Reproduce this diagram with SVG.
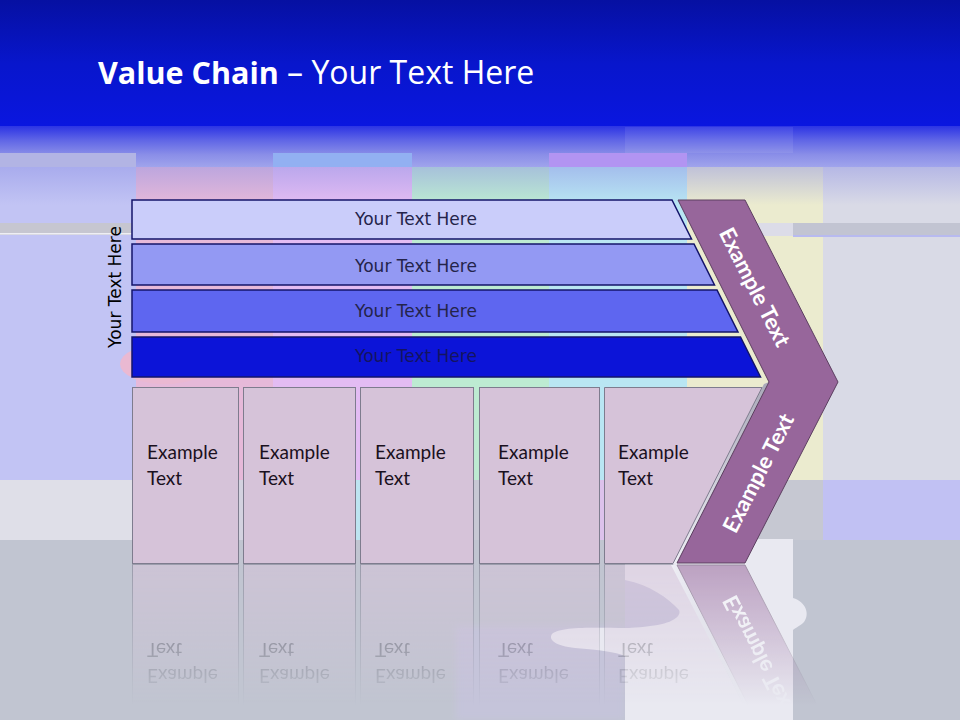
<svg xmlns="http://www.w3.org/2000/svg" xmlns:xlink="http://www.w3.org/1999/xlink" width="960" height="720" viewBox="0 0 960 720">
<defs>
<style>
.bar{stroke:#14146a;stroke-width:1.5}
.bartext{font-family:"DejaVu Sans",Verdana,sans-serif;font-size:17px;fill:#24244a;text-anchor:middle}
.box{fill:#d6c3d9;stroke:#7e7c8e;stroke-width:1}
.boxtext{font-family:Lato,"Liberation Sans",Arial,sans-serif;font-size:19px;fill:#1a1020}
.chev{fill:#97669b;stroke:#5c3f60;stroke-width:1}
.chevtext{font-family:Lato,"Liberation Sans",Arial,sans-serif;font-size:22px;font-weight:bold;fill:#ffffff;text-anchor:middle}
</style>
<linearGradient id="topBlue" x1="0" y1="0" x2="0" y2="1">
<stop offset="0" stop-color="#0610a2"/>
<stop offset="0.5" stop-color="#0816cc"/>
<stop offset="1" stop-color="#0a16e0"/>
</linearGradient>
<linearGradient id="band" gradientUnits="userSpaceOnUse" x1="0" y1="126" x2="0" y2="167">
<stop offset="0" stop-color="#2c34e4"/>
<stop offset="0.35" stop-color="#6066e6"/>
<stop offset="0.7" stop-color="#8a8ee8"/>
<stop offset="1" stop-color="#a0a4ec"/>
</linearGradient>
<linearGradient id="colTop" gradientUnits="userSpaceOnUse" x1="0" y1="167" x2="0" y2="205">
<stop offset="0" stop-color="#8a8ee4" stop-opacity="0.45"/>
<stop offset="1" stop-color="#8a8ee4" stop-opacity="0"/>
</linearGradient>
<linearGradient id="reflFade" gradientUnits="userSpaceOnUse" x1="0" y1="565" x2="0" y2="705">
<stop offset="0" stop-color="#fff" stop-opacity="0.55"/>
<stop offset="1" stop-color="#fff" stop-opacity="0"/>
</linearGradient>
<mask id="reflMask" maskUnits="userSpaceOnUse" x="0" y="560" width="960" height="160">
<rect x="0" y="560" width="960" height="160" fill="url(#reflFade)"/>
</mask>
<linearGradient id="bevel" x1="0" y1="0" x2="1" y2="0">
<stop offset="0" stop-color="#f2f2f8"/>
<stop offset="1" stop-color="#a8a8b8"/>
</linearGradient>
<filter id="soft" x="-10%" y="-10%" width="120%" height="120%"><feGaussianBlur stdDeviation="3"/></filter>
</defs>

<g id="background">
<rect x="0" y="0" width="960" height="720" fill="#c1c5d1"/>
<rect x="0" y="0" width="960" height="127" fill="url(#topBlue)"/>
<rect x="0" y="126" width="960" height="41" fill="url(#band)"/>
<rect x="0" y="167" width="136" height="313" fill="#c2c4f4"/>
<rect x="136" y="167" width="137" height="313" fill="#e6b9d9"/>
<rect x="273" y="167" width="139" height="313" fill="#e3bcf3"/>
<rect x="412" y="167" width="137" height="313" fill="#bdebd2"/>
<rect x="549" y="167" width="138" height="313" fill="#b9e6f3"/>
<rect x="687" y="167" width="136" height="313" fill="#ebebcf"/>
<rect x="823" y="167" width="137" height="313" fill="#d9dae6"/>
<rect x="0" y="167" width="960" height="38" fill="url(#colTop)"/>
<rect x="0" y="153" width="136" height="14" fill="#b2b4e4"/>
<rect x="273" y="153" width="139" height="14" fill="#92b0f2"/>
<rect x="549" y="153" width="138" height="14" fill="#b294f2"/>
<rect x="625" y="127" width="168" height="26" fill="#ffffff" opacity="0.08"/>
<ellipse cx="165" cy="364" rx="45" ry="20" fill="#eab9d2"/>
<rect x="0" y="480" width="136" height="60" fill="#dfdfe8"/>
<rect x="136" y="480" width="137" height="60" fill="#d4d2e0"/>
<rect x="273" y="480" width="139" height="60" fill="#bde4f1"/>
<rect x="412" y="480" width="137" height="60" fill="#c8c8d4"/>
<rect x="549" y="480" width="138" height="60" fill="#dcc2ec"/>
<rect x="687" y="480" width="136" height="60" fill="#c6c8d2"/>
<rect x="823" y="480" width="137" height="60" fill="#c1c1f3"/>
<rect x="0" y="223" width="132" height="12" fill="#c6c6d0"/>
<rect x="0" y="233" width="132" height="1.5" fill="#eeeef4"/>
<rect x="757" y="223" width="203" height="13" fill="#c2c4d2"/>
<rect x="757" y="223" width="36" height="13" fill="#dcdce8"/>
<rect x="793" y="235" width="167" height="2" fill="#b8baf0"/>
<rect x="456" y="626" width="169" height="94" fill="#c5c4da" filter="url(#soft)"/>
<rect x="625" y="539" width="168" height="181" fill="#e9e9f1"/>
<path d="M625,628 C600,628 560,626 552,634 C548,640 556,646 575,648 C600,650 615,652 625,656 Z" fill="#e9e9f1"/>
<path d="M625,580 C650,585 668,598 679,610 C682,616 672,624 650,626 C635,628 625,628 625,628 Z" fill="#c7c5dc"/>
<path d="M793,598 C806,602 810,614 804,622 C800,626 795,628 793,630 Z" fill="#e9e9f1"/>
</g>

<g id="title">
<text x="98" y="84" font-family="'Open Sans',Lato,'Liberation Sans',Arial,sans-serif" font-size="32" fill="#ffffff"><tspan font-weight="bold" font-size="30.5">Value Chain</tspan> – Your Text Here</text>
</g>

<g id="reflection" mask="url(#reflMask)">
<g transform="matrix(1,0,0,-1,0,1128)">
<use xlink:href="#boxes"/>
<use xlink:href="#chevron"/>
</g>
</g>

<g id="bars">
<g id="bar-1">
<polygon class="bar" points="132,200 672,200 691.5,239 132,239" fill="#cacdfa"/>
<text class="bartext" x="416" y="225">Your Text Here</text>
</g>
<g id="bar-2">
<polygon class="bar" points="132,244 694,244 714.5,285 132,285" fill="#9399f3"/>
<text class="bartext" x="416" y="272">Your Text Here</text>
</g>
<g id="bar-3">
<polygon class="bar" points="132,290 717,290 738,332 132,332" fill="#5e66f0"/>
<text class="bartext" x="416" y="317">Your Text Here</text>
</g>
<g id="bar-4">
<polygon class="bar" points="132,337 740.5,337 760.5,377 132,377" fill="#0c14d8"/>
<text class="bartext" x="416" y="362" style="fill:#141460">Your Text Here</text>
</g>
</g>

<g id="side-label">
<text class="bartext" style="fill:#000000" transform="translate(121,287) rotate(-90)" x="0" y="0">Your Text Here</text>
</g>

<g id="chevron">
<polygon points="671,563 677,563 769,382 764,384" fill="url(#bevel)"/>
<polygon class="chev" points="678,200 745,200 838,382 745,563 677,563 769,382"/>
<text class="chevtext" transform="translate(755,287) rotate(63)" dy="8">Example Text</text>
<text class="chevtext" transform="translate(758,473) rotate(-63)" dy="8">Example Text</text>
</g>

<g id="boxes">
<g id="box-1">
<rect class="box" x="132.5" y="387.5" width="106" height="176"/>
<text class="boxtext" x="147" y="459">Example</text>
<text class="boxtext" x="147" y="485">Text</text>
</g>
<g id="box-2">
<rect class="box" x="243.5" y="387.5" width="112" height="176"/>
<text class="boxtext" x="259" y="459">Example</text>
<text class="boxtext" x="259" y="485">Text</text>
</g>
<g id="box-3">
<rect class="box" x="360.5" y="387.5" width="113" height="176"/>
<text class="boxtext" x="375" y="459">Example</text>
<text class="boxtext" x="375" y="485">Text</text>
</g>
<g id="box-4">
<rect class="box" x="479.5" y="387.5" width="120" height="176"/>
<text class="boxtext" x="498" y="459">Example</text>
<text class="boxtext" x="498" y="485">Text</text>
</g>
<g id="box-5">
<polygon class="box" points="604.5,387.5 762,387.5 673,563.5 604.5,563.5"/>
<text class="boxtext" x="618" y="459">Example</text>
<text class="boxtext" x="618" y="485">Text</text>
</g>
</g>
</svg>
